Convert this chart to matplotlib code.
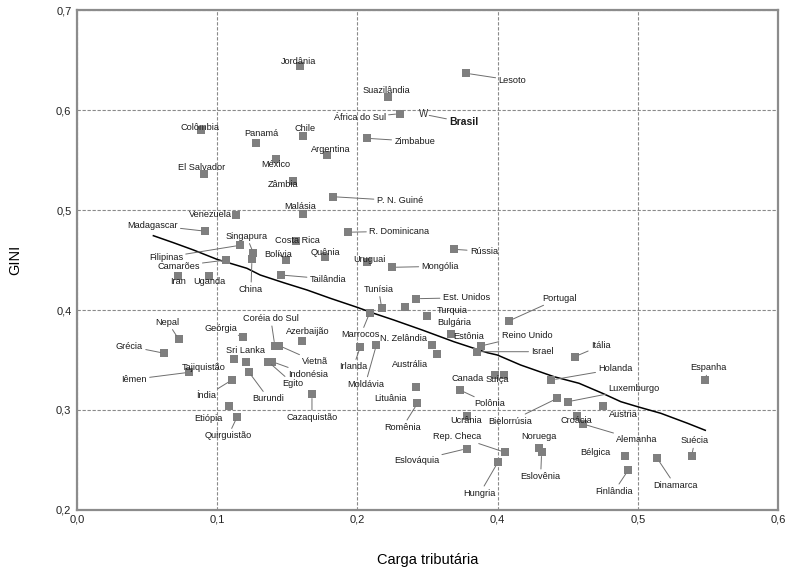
import matplotlib
matplotlib.use("Agg")
import matplotlib.pyplot as plt
import numpy as np

plt.rcParams['font.family'] = ['Liberation Sans', 'DejaVu Sans']

# countries, tax burden (x) and GINI (y)
countries = [
    "Jordânia", "Suazilândia", "África do Sul", "Lesoto", "Colômbia", "Panamá",
    "Chile", "Argentina", "México", "El Salvador", "Zâmbia", "P. N. Guiné",
    "Zimbabue", "Malásia", "Venezuela", "Madagascar", "R. Dominicana",
    "Costa Rica", "Filipinas", "Singapura", "China", "Camarões", "Bolívia",
    "Quênia", "Uruguai", "Mongólia", "Tailândia", "Iran", "Uganda", "Rússia",
    "Tunísia", "Est. Unidos", "Turquia", "Bulgária", "Marrocos", "Estônia",
    "N. Zelândia", "Irlanda", "Moldávia", "Austrália", "Portugal",
    "Reino Unido", "Israel", "Itália", "Nepal", "Geórgia", "Grécia",
    "Coréia do Sul", "Vietnã", "Azerbaijão", "Sri Lanka", "Tajiquistão",
    "Indonésia", "Egito", "Burundi", "Iêmen", "Índia", "Etiópia",
    "Quirguistão", "Cazaquistão", "Lituânia", "Romênia", "Eslováquia",
    "Canada", "Suíça", "Polônia", "Holanda", "Luxemburgo", "Bielorrúsia",
    "Austria", "Ucrânia", "Rep. Checa", "Hungria", "Noruega", "Eslovênia",
    "Croácia", "Alemanha", "Bélgica", "Finlândia", "Dinamarca", "Suécia",
    "Espanha",
]
tax = [
    0.1588, 0.2439, 0.2604, 0.3553, 0.0888, 0.1276,
    0.1614, 0.1786, 0.1416, 0.0907, 0.1541, 0.1824,
    0.2133, 0.1611, 0.1134, 0.0916, 0.1934,
    0.1559, 0.1162, 0.1259, 0.1248, 0.1066, 0.1493,
    0.1766, 0.2139, 0.2496, 0.1455, 0.0724, 0.0945, 0.3376,
    0.2347, 0.2839, 0.2986, 0.2676, 0.2176, 0.3339,
    0.3061, 0.2043, 0.2271, 0.3139, 0.4079,
    0.3761, 0.3700, 0.4550, 0.0726, 0.1181, 0.0624,
    0.1411, 0.1443, 0.1605, 0.1205, 0.1119,
    0.1393, 0.1364, 0.1224, 0.0800, 0.1105, 0.1086,
    0.1143, 0.1676, 0.2829, 0.2857, 0.3557,
    0.3957, 0.4043, 0.3461, 0.4384, 0.4502, 0.4426,
    0.4752, 0.3557, 0.4052, 0.4002, 0.4295, 0.4314,
    0.4569, 0.4609, 0.4909, 0.4931, 0.5138, 0.5384,
    0.5481,
]
gini = [
    0.644, 0.6127, 0.5963, 0.6367, 0.580, 0.5673,
    0.5737, 0.5553, 0.5507, 0.5357, 0.529, 0.5133,
    0.5717, 0.4957, 0.4947, 0.4788, 0.4778,
    0.469, 0.4647, 0.4567, 0.4507, 0.450, 0.450,
    0.4533, 0.4483, 0.4427, 0.435, 0.434, 0.434, 0.4607,
    0.4017, 0.4113, 0.3937, 0.4033, 0.3973, 0.3757,
    0.3653, 0.3633, 0.365, 0.356, 0.389,
    0.364, 0.3583, 0.3533, 0.3707, 0.373, 0.3567,
    0.3643, 0.3643, 0.3687, 0.3483, 0.351,
    0.3483, 0.3483, 0.3383, 0.3377, 0.330, 0.3043,
    0.2933, 0.3157, 0.3227, 0.3067, 0.2613,
    0.335, 0.335, 0.320, 0.330, 0.3083, 0.3117,
    0.3043, 0.294, 0.2577, 0.2477, 0.2617, 0.2577,
    0.294, 0.286, 0.254, 0.2397, 0.2517, 0.254,
    0.330,
]
brasil_tax = 0.2947
brasil_gini = 0.5957

# fitted trend line
trend_x = [0.0545, 0.0688, 0.0831, 0.0998, 0.1212, 0.1307, 0.1474, 0.1641,
           0.1807, 0.1998, 0.2233, 0.2519, 0.2924, 0.3376, 0.3853, 0.3996,
           0.4164, 0.4402, 0.4581, 0.4748, 0.4879, 0.4998, 0.5164, 0.5355,
           0.5481]
trend_y = [0.4743, 0.4673, 0.4600, 0.4507, 0.4417, 0.4350, 0.4273, 0.4200,
           0.4117, 0.4027, 0.3967, 0.3900, 0.3800, 0.3683, 0.3573, 0.3550,
           0.3450, 0.3333, 0.3267, 0.3167, 0.3083, 0.3033, 0.2967, 0.2867,
           0.2797]

xticks = [0.0, 0.1, 0.2, 0.4, 0.5, 0.6]
xtick_labels = ["0,0", "0,1", "0,2", "0,4", "0,5", "0,6"]
yticks = [0.2, 0.3, 0.4, 0.5, 0.6, 0.7]
ytick_labels = ["0,2", "0,3", "0,4", "0,5", "0,6", "0,7"]

# label offsets from the marker, in pixels (right, up)
label_offset = {
    "Jordânia": (-1, 5), "Suazilândia": (-2, 7), "África do Sul": (-40, -4),
    "Lesoto": (46, -7), "Colômbia": (-1, 3), "Panamá": (5, 9),
    "Chile": (2, 8), "Argentina": (3, 5), "México": (0, -5),
    "El Salvador": (-3, 7), "Zâmbia": (-10, -3), "P. N. Guiné": (67, -4),
    "Zimbabue": (48, -3), "Malásia": (-3, 8), "Venezuela": (-26, 1),
    "Madagascar": (-53, 6), "R. Dominicana": (51, 1), "Costa Rica": (2, 1),
    "Filipinas": (-74, -12), "Singapura": (-7, 17), "China": (-1, -30),
    "Camarões": (-48, -6), "Bolívia": (-8, 6), "Quênia": (1, 4),
    "Uruguai": (2, 2), "Mongólia": (48, 1), "Tailândia": (47, -4),
    "Iran": (0, -5), "Uganda": (0, -5), "Rússia": (30, -2),
    "Tunísia": (-3, 19), "Est. Unidos": (50, 1), "Turquia": (26, 6),
    "Bulgária": (49, -16), "Marrocos": (-9, -22), "Estônia": (17, -2),
    "N. Zelândia": (-28, 6), "Irlanda": (-7, -20), "Moldávia": (-11, -39),
    "Austrália": (-27, -11), "Portugal": (51, 23), "Reino Unido": (46, 11),
    "Israel": (66, 0), "Itália": (26, 11), "Nepal": (-11, 17),
    "Geórgia": (-22, 9), "Grécia": (-35, 7), "Coréia do Sul": (-4, 27),
    "Vietnã": (36, -16), "Azerbaijão": (6, 10), "Sri Lanka": (0, 11),
    "Tajiquistão": (-30, -9), "Indonésia": (36, -13), "Egito": (25, -22),
    "Burundi": (20, -27), "Iêmen": (-55, -7), "Índia": (-26, -16),
    "Etiópia": (-21, -13), "Quirguistão": (-9, -19), "Cazaquistão": (0, -23),
    "Lituânia": (-25, -11), "Romênia": (-15, -24), "Eslováquia": (-50, -12),
    "Canada": (-27, -4), "Suíça": (-6, -5), "Polônia": (30, -14),
    "Holanda": (64, 11), "Luxemburgo": (66, 13), "Bielorrúsia": (-47, -23),
    "Austria": (20, -9), "Ucrânia": (0, -5), "Rep. Checa": (-48, 16),
    "Hungria": (-18, -31), "Noruega": (0, 12), "Eslovênia": (-1, -24),
    "Croácia": (-1, -5), "Alemanha": (54, -16), "Bélgica": (-30, 3),
    "Finlândia": (-14, -21), "Dinamarca": (18, -27), "Suécia": (3, 15),
    "Espanha": (3, 12),
}
leaders = {
    "África do Sul", "Lesoto", "P. N. Guiné", "Zimbabue", "Madagascar",
    "R. Dominicana", "Filipinas", "Camarões", "Singapura", "China", "Bolívia",
    "Mongólia", "Tailândia", "Rússia", "Tunísia", "Est. Unidos", "Marrocos",
    "Irlanda", "Moldávia", "Portugal", "Reino Unido", "Israel", "Itália",
    "Nepal", "Grécia", "Coréia do Sul", "Vietnã", "Indonésia", "Egito",
    "Burundi", "Iêmen", "Índia", "Quirguistão", "Cazaquistão", "Romênia",
    "Eslováquia", "Polônia", "Holanda", "Luxemburgo", "Bielorrúsia",
    "Rep. Checa", "Hungria", "Eslovênia", "Alemanha", "Finlândia",
    "Dinamarca", "Suécia", "Espanha", "Geórgia",
}


# the chart's x axis skips 0,3: equal spacing between the labelled ticks
def fwd(v):
    return np.interp(v, xticks, np.arange(len(xticks)))


def inv(u):
    return np.interp(u, np.arange(len(xticks)), xticks)


fig = plt.figure(figsize=(7.87, 5.72), dpi=100)
ax = fig.add_axes([0.0978, 0.1084, 0.8908, 0.8741])
ax.set_xscale('function', functions=(fwd, inv))
ax.set_xlim(0.0, 0.6)
ax.set_ylim(0.2, 0.7)

ax.set_xticks(xticks)
ax.set_xticklabels(xtick_labels)
ax.set_yticks(yticks)
ax.set_yticklabels(ytick_labels)
ax.tick_params(length=0, labelsize=8, colors='#222222')
ax.tick_params(axis='x', pad=3)
ax.tick_params(axis='y', pad=4)

ax.grid(True, color='#8a8a8a', linestyle=(0, (3, 1.5)), linewidth=0.8)
ax.set_axisbelow(True)
for sp in ax.spines.values():
    sp.set_color('#8c8c8c')
    sp.set_linewidth(1.6)

ax.plot(trend_x, trend_y, color='black', lw=1.1, zorder=3)
ax.scatter(tax, gini, marker='s', s=26, color='#7f7f7f', linewidths=0, zorder=4)

for name, x, y in zip(countries, tax, gini):
    dx, dy = label_offset[name]
    props = None
    if name in leaders:
        props = dict(arrowstyle='-', color='#6e6e6e', lw=0.7,
                     shrinkA=0, shrinkB=3)
    ax.annotate(name, xy=(x, y), xytext=(dx, dy), textcoords='offset pixels',
                ha='center', va='center', fontsize=6.6, color='#1a1a1a',
                arrowprops=props, zorder=5)

# Brasil is drawn as a "W" in the original
ax.text(brasil_tax, brasil_gini, "W", ha='center', va='center', fontsize=7,
        color='#333333', zorder=5)
ax.annotate("Brasil", xy=(brasil_tax, brasil_gini), xytext=(40, -8),
            textcoords='offset pixels', ha='center', va='center',
            fontsize=7.5, fontweight='bold', color='#1a1a1a',
            arrowprops=dict(arrowstyle='-', color='#6e6e6e', lw=0.7,
                            shrinkA=0, shrinkB=4), zorder=5)

ax.set_xlabel("Carga tributária", fontsize=10.5, labelpad=21)
ax.set_ylabel("GINI", fontsize=10.5, labelpad=24)

fig.savefig("out.png", dpi=100)
